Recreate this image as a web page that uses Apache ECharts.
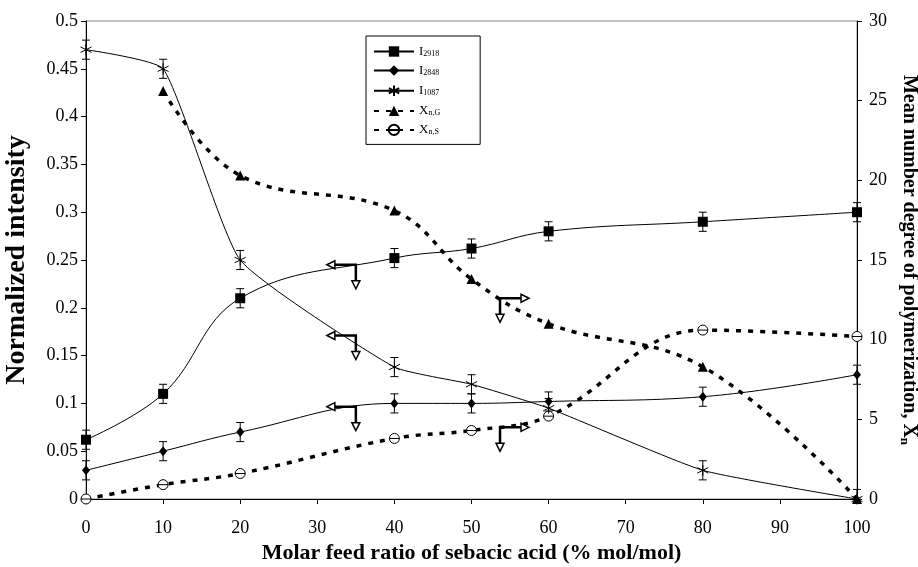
<!DOCTYPE html>
<html lang="en">
<head>
<meta charset="UTF-8">
<script src="https://cdn.jsdelivr.net/npm/echarts@6/dist/echarts.min.js"></script>
<title>Normalized intensity vs molar feed ratio</title>
<style>html,body{margin:0;padding:0;background:#fff}</style>
</head>
<body>
<div id="main" style="width:918px;height:567px;"></div>
<script>
// molar feed ratio of sebacic acid (% mol/mol)
var ratio = [0, 10, 20, 40, 50, 60, 80, 100];
// normalized intensities (left axis)
var i2918 = [0.062, 0.11, 0.21, 0.252, 0.262, 0.28, 0.29, 0.30];
var i2848 = [0.03, 0.05, 0.07, 0.10, 0.10, 0.102, 0.107, 0.13];
var i1087 = [0.47, 0.45, 0.25, 0.138, 0.12, 0.095, 0.03, 0.0];
var errI = [0.01, 0.01, 0.01, 0.01, 0.01, 0.01, 0.01, 0.01];
// mean number degree of polymerization (right axis)
var ratioG = [10, 20, 40, 50, 60, 80, 100];
var xnG = [25.6, 20.3, 18.1, 13.8, 11.0, 8.3, 0];
var xnS = [0, 0.9, 1.6, 3.8, 4.3, 5.2, 10.6, 10.2];
// annotation arrows: x, y, direction (-1 left, 1 right); left ones on the left axis
var arrowsLeft = [[35, 0.245, -1], [35, 0.171, -1], [35, 0.0966, -1]];
var arrowsRight = [[53.7, 12.6, 1], [53.7, 4.5, 1]];

var serif = 'Liberation Serif';

function pairs(xs, ys) {
    return xs.map(function (x, i) { return [x, ys[i]]; });
}
function errData(ys) {
    return ratio.map(function (x, i) { return [x, ys[i], errI[i]]; });
}

function renderErr(params, api) {
    var x = api.value(0), v = api.value(1), e = api.value(2);
    var lo = api.coord([x, Math.max(0, v - e)]);
    var hi = api.coord([x, v + e]);
    var st = { stroke: '#000', lineWidth: 1 };
    return {
        type: 'group',
        children: [
            { type: 'line', shape: { x1: lo[0], y1: lo[1], x2: hi[0], y2: hi[1] }, style: st },
            { type: 'line', shape: { x1: lo[0] - 4, y1: lo[1], x2: lo[0] + 4, y2: lo[1] }, style: st },
            { type: 'line', shape: { x1: hi[0] - 4, y1: hi[1], x2: hi[0] + 4, y2: hi[1] }, style: st }
        ]
    };
}

function renderArrow(params, api) {
    var p = api.coord([api.value(0), api.value(1)]);
    var dir = api.value(2);
    var hx = p[0] + dir * 29;
    var vy = p[1] + 24;
    var st = { stroke: '#000', lineWidth: 2.5, fill: null };
    var head = { stroke: '#000', lineWidth: 1.5, fill: '#fff' };
    return {
        type: 'group',
        children: [
            { type: 'polyline', shape: { points: [[hx - dir * 6, p[1]], [p[0], p[1]], [p[0], vy - 6]] }, style: st },
            { type: 'polygon', shape: { points: [[hx, p[1]], [hx - dir * 8, p[1] - 4], [hx - dir * 8, p[1] + 4]] }, style: head },
            { type: 'polygon', shape: { points: [[p[0], vy], [p[0] - 4, vy - 8], [p[0] + 4, vy - 8]] }, style: head }
        ]
    };
}

var asterisk = 'path://M5 0 L5 10 M0.67 2.5 L9.33 7.5 M0.67 7.5 L9.33 2.5';
var circleLine = 'path://M0 5 A5 5 0 1 1 10 5 A5 5 0 1 1 0 5 Z M0 5 L10 5';

var legendNames = {
    'I2918': '{m|I}{s|2918}',
    'I2848': '{m|I}{s|2848}',
    'I1087': '{m|I}{s|1087}',
    'Xn,G': '{m|X}{s|n,G}',
    'Xn,S': '{m|X}{s|n,S}'
};

var chart = echarts.init(document.getElementById('main'));
var option = {
    backgroundColor: '#fff',
    animation: false,
    textStyle: { fontFamily: serif, color: '#000' },
    grid: {
        left: 86, right: 61, top: 21, bottom: 68,
        containLabel: false, outerBoundsMode: 'none',
        show: true, borderColor: '#888', borderWidth: 1
    },
    legend: {
        orient: 'vertical',
        left: 366,
        top: 36,
        padding: [9, 40, 8, 7],
        itemGap: 6,
        itemWidth: 40,
        itemHeight: 13,
        backgroundColor: '#fff',
        borderColor: '#000',
        borderWidth: 1,
        data: ['I2918', 'I2848', 'I1087', 'Xn,G', 'Xn,S'],
        formatter: function (n) { return legendNames[n]; },
        textStyle: {
            fontFamily: serif,
            color: '#000',
            lineHeight: 13,
            rich: {
                m: { fontFamily: serif, fontSize: 13, color: '#000', lineHeight: 13 },
                s: { fontFamily: serif, fontSize: 8, color: '#000', lineHeight: 13, padding: [5, 0, 0, 0] }
            }
        }
    },
    xAxis: {
        type: 'value',
        min: 0, max: 100, interval: 10,
        name: 'Molar feed ratio of sebacic acid (% mol/mol)',
        nameLocation: 'middle',
        nameGap: 33,
        nameTextStyle: { fontFamily: serif, fontSize: 22, fontWeight: 'bold', color: '#000' },
        axisLine: { lineStyle: { color: '#000', width: 1 } },
        axisTick: { show: true, length: 5, lineStyle: { color: '#000' } },
        axisLabel: { fontFamily: serif, fontSize: 18, color: '#000', margin: 20 },
        splitLine: { show: false }
    },
    yAxis: [{
        type: 'value',
        min: 0, max: 0.5, interval: 0.05,
        name: 'Normalized intensity',
        nameLocation: 'middle',
        nameGap: 55,
        nameRotate: 90,
        nameTextStyle: { fontFamily: serif, fontSize: 28, fontWeight: 'bold', color: '#000' },
        axisLine: { show: true, lineStyle: { color: '#000', width: 1 } },
        axisTick: { show: true, length: 5, lineStyle: { color: '#000' } },
        axisLabel: { fontFamily: serif, fontSize: 18, color: '#000', margin: 8 },
        splitLine: { show: false }
    }, {
        type: 'value',
        min: 0, max: 30, interval: 5,
        position: 'right',
        name: 'Mean number degree of polymerization, {m|X}{s|n}',
        nameLocation: 'middle',
        nameGap: 36,
        nameRotate: -90,
        nameTextStyle: {
            fontFamily: serif, fontSize: 20, fontWeight: 'bold', color: '#000',
            rich: {
                m: { fontFamily: serif, fontSize: 20, fontWeight: 'bold', color: '#000' },
                s: { fontFamily: serif, fontSize: 13, fontWeight: 'bold', color: '#000', padding: [10, 0, 0, 0] }
            }
        },
        axisLine: { show: true, lineStyle: { color: '#000', width: 1 } },
        axisTick: { show: true, length: 5, lineStyle: { color: '#000' } },
        axisLabel: { fontFamily: serif, fontSize: 18, color: '#000', margin: 12 },
        splitLine: { show: false }
    }],
    series: [{
        name: 'I2918', type: 'line', smooth: 0.4,
        data: pairs(ratio, i2918),
        symbol: 'rect', symbolSize: 10,
        itemStyle: { color: '#000' },
        lineStyle: { color: '#000', width: 1 },
        z: 5
    }, {
        name: 'I2848', type: 'line', smooth: 0.4,
        data: pairs(ratio, i2848),
        symbol: 'diamond', symbolSize: [8, 10],
        itemStyle: { color: '#000' },
        lineStyle: { color: '#000', width: 1 },
        z: 5
    }, {
        name: 'I1087', type: 'line', smooth: 0.15,
        data: pairs(ratio, i1087),
        symbol: asterisk, symbolSize: 11,
        itemStyle: { color: 'none', borderColor: '#000', borderWidth: 1 },
        lineStyle: { color: '#000', width: 1 },
        z: 5
    }, {
        name: 'Xn,G', type: 'line', smooth: 0.4, yAxisIndex: 1,
        data: pairs(ratioG, xnG),
        symbol: 'triangle', symbolSize: 10,
        itemStyle: { color: '#000' },
        lineStyle: { color: '#000', width: 3.5, type: [5, 7] },
        z: 4
    }, {
        name: 'Xn,S', type: 'line', smooth: 0.4, yAxisIndex: 1,
        data: pairs(ratio, xnS),
        symbol: circleLine, symbolSize: 10,
        itemStyle: { color: '#fff', borderColor: '#000', borderWidth: 1 },
        lineStyle: { color: '#000', width: 3.5, type: [5, 7] },
        z: 4
    }, {
        type: 'custom', renderItem: renderErr, data: errData(i2918), z: 3, silent: true
    }, {
        type: 'custom', renderItem: renderErr, data: errData(i2848), z: 3, silent: true
    }, {
        type: 'custom', renderItem: renderErr, data: errData(i1087), z: 3, silent: true
    }, {
        type: 'custom', renderItem: renderArrow, data: arrowsLeft, z: 6, silent: true
    }, {
        type: 'custom', renderItem: renderArrow, data: arrowsRight, yAxisIndex: 1, z: 6, silent: true
    }]
};
chart.setOption(option);
</script>
</body>
</html>
